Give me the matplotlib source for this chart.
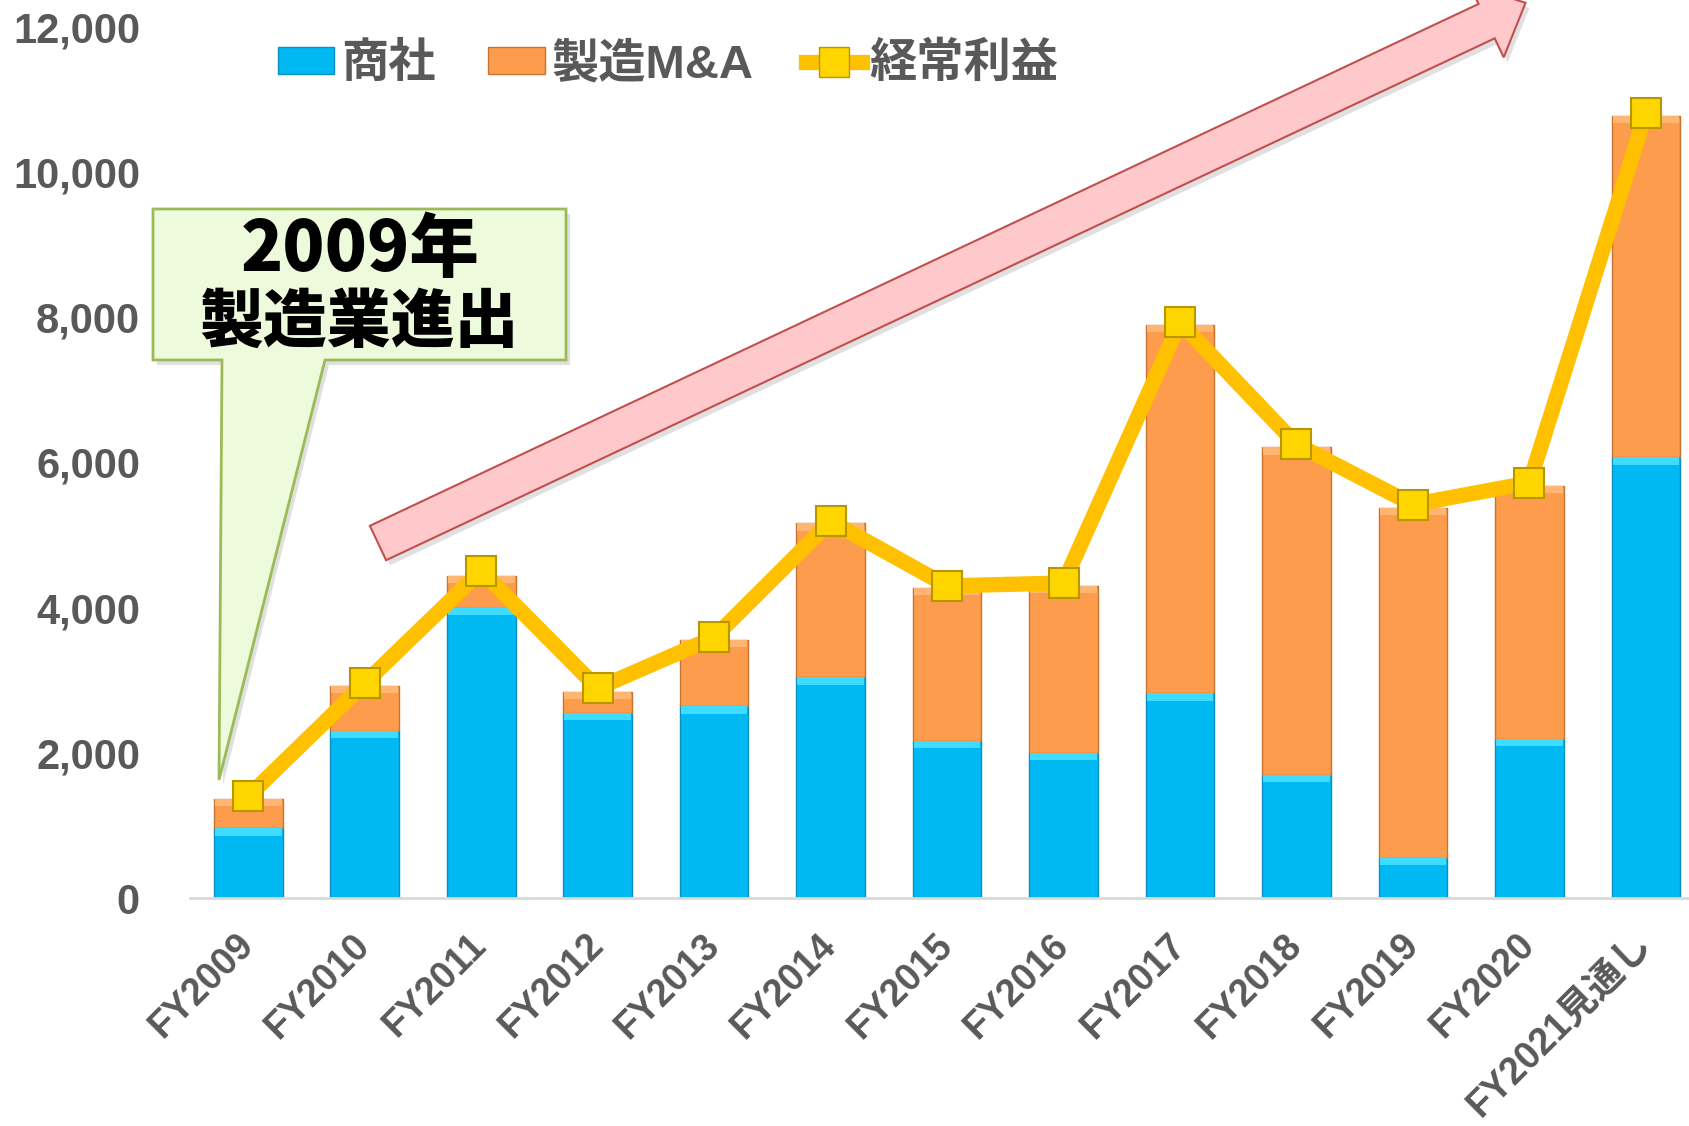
import matplotlib
matplotlib.use("Agg")
import matplotlib.pyplot as plt
from matplotlib.patches import Polygon, Patch
from matplotlib.lines import Line2D
import numpy as np

# data
years = ["FY2009", "FY2010", "FY2011", "FY2012", "FY2013", "FY2014", "FY2015",
         "FY2016", "FY2017", "FY2018", "FY2019", "FY2020", "FY2021見通し"]
trading = [960, 2300, 4000, 2550, 2640, 3040, 2160, 2000, 2820, 1700, 550, 2190, 6070]
mna = [410, 620, 440, 290, 920, 2120, 2110, 2300, 5080, 4510, 4830, 3490, 4710]
ordinary_profit = [1400, 2960, 4510, 2890, 3590, 5190, 4300, 4340, 7930, 6250, 5420, 5720, 10810]
yticks = [0, 2000, 4000, 6000, 8000, 10000, 12000]

W, H = 1689, 1126
GRAY = "#595959"
FONTS = ["Liberation Sans", "Noto Sans CJK JP"]
plt.rcParams["font.family"] = FONTS

fig = plt.figure(figsize=(W / 100, H / 100), dpi=100)
ax = fig.add_axes([190 / W, 1 - 898 / H, 1 - 190 / W, (898 - 27) / H])


def px(x, y):
    # figure pixel (y down) -> figure fraction
    return (x / W, 1 - y / H)


x = np.arange(len(years))
bw = 0.59
blue, blue_hi = "#00b9f2", "#3fdcff"
orange, orange_hi = "#fd9c4c", "#ffb672"

ax.bar(x, trading, bw, color=blue, edgecolor="#0a8fc0", linewidth=1, zorder=2)
ax.bar(x, mna, bw, bottom=trading, color=orange, edgecolor="#c87430", linewidth=1, zorder=2)
# bevel highlight on top of every segment
hi = 100
ax.bar(x, [hi] * len(x), bw * 0.97, bottom=np.array(trading) - hi, color=blue_hi,
       linewidth=0, zorder=3)
tops = np.array(trading) + np.array(mna)
ax.bar(x, [hi] * len(x), bw * 0.97, bottom=tops - hi, color=orange_hi,
       linewidth=0, zorder=3)

ax.plot(x, ordinary_profit, color="#ffc000", lw=11, zorder=4, solid_joinstyle="round")
ax.plot(x, ordinary_profit, ls="none", marker="s", ms=21, mfc="#ffd500",
        mec="#b89600", mew=1.5, zorder=5)

ax.set_xlim(-0.5, 12.37)
ax.set_ylim(0, 12000)
ax.set_yticks(yticks)
ax.set_yticklabels([f"{v:,}" for v in yticks], fontsize=30, fontweight="bold", color=GRAY)
ax.set_xticks(x)
ax.set_xticklabels(years, fontsize=27, fontweight="bold", color=GRAY,
                   rotation=45, ha="right", va="center", rotation_mode="anchor")
ax.tick_params(axis="both", length=0)
ax.tick_params(axis="y", pad=36)
ax.tick_params(axis="x", pad=30)
for s in ["top", "right", "left"]:
    ax.spines[s].set_visible(False)
ax.spines["bottom"].set_color("#d9d9d9")
ax.spines["bottom"].set_linewidth(2)

# big pink arrow
tail = np.array([378.0, 543.0])
u = np.array([0.905, -0.426])
v = np.array([0.426, 0.905])
shape = [(0, -19), (1225, -19), (1225, -40), (1268, 0), (1225, 40), (1225, 19), (0, 19)]
arrow_pts = [px(*(tail + a * u + b * v)) for a, b in shape]
shadow_pts = [px(*(tail + a * u + b * v + np.array([4, 5]))) for a, b in shape]
fig.patches.append(Polygon(shadow_pts, closed=True, transform=fig.transFigure,
                           facecolor="#000000", alpha=0.12, lw=0, zorder=6))
fig.patches.append(Polygon(arrow_pts, closed=True, transform=fig.transFigure,
                           facecolor="#ffc9cb", edgecolor="#c0504d", lw=1.5, zorder=7))

# callout box
call = [(153, 209), (566, 209), (566, 360), (325, 360), (219, 780), (222, 360), (153, 360)]
fig.patches.append(Polygon([px(a + 4, b + 5) for a, b in call], closed=True,
                           transform=fig.transFigure, facecolor="#000000", alpha=0.12,
                           lw=0, zorder=6))
fig.patches.append(Polygon([px(a, b) for a, b in call], closed=True,
                           transform=fig.transFigure, facecolor="#eefadc",
                           edgecolor="#9bbb59", lw=2, zorder=7))
fig.text(*px(360, 250), "2009年", fontsize=50, fontweight="heavy", color="black",
         ha="center", va="center", family=["Noto Sans CJK JP"], zorder=8)
fig.text(*px(359, 323), "製造業進出", fontsize=46, fontweight="heavy", color="black",
         ha="center", va="center", family=["Noto Sans CJK JP"], zorder=8)

# legend
handles = [
    Patch(facecolor=blue, edgecolor="#0a8fc0"),
    Patch(facecolor=orange, edgecolor="#c87430"),
    Line2D([], [], color="#ffc000", lw=11, marker="s", ms=21, mfc="#ffd500",
           mec="#b89600"),
]
leg = fig.legend(handles, ["商社", "製造M&A", "経常利益"], ncol=3, frameon=False,
                 loc="center", bbox_to_anchor=px(668, 65), handlelength=1.2,
                 handleheight=0.5, handletextpad=0.15, columnspacing=1.1,
                 prop={"family": FONTS, "weight": "bold", "size": 34})
for t in leg.get_texts():
    t.set_color(GRAY)

fig.savefig("out.png", dpi=100)
